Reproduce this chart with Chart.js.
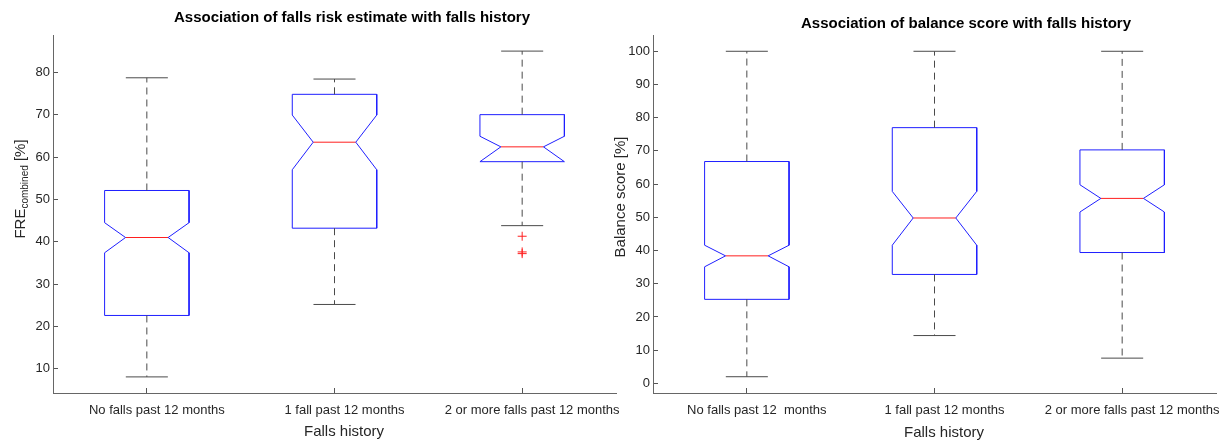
<!DOCTYPE html>
<html><head><meta charset="utf-8">
<script src="https://cdn.jsdelivr.net/npm/chart.js@4.4.1/dist/chart.umd.min.js"></script>
<style>
html,body{margin:0;padding:0;background:#fff;}
#wrap{position:relative;width:1230px;height:443px;overflow:hidden;background:#fff;}
canvas{position:absolute;top:0;}
#c1{left:0px}
#c2{left:600px}
</style></head><body>
<div id="wrap"><canvas id="c1" width="630" height="443"></canvas><canvas id="c2" width="630" height="443"></canvas></div>
<script>
// ---------- data ----------
const categoriesFre = ['No falls past 12 months', '1 fall past 12 months', '2 or more falls past 12 months'];
const categoriesBal = ['No falls past 12  months', '1 fall past 12 months', '2 or more falls past 12 months'];

const freWhiskerLow  = [8.1, 25.2, 43.8];
const freQ1          = [22.6, 43.2, 58.9];
const freNotchLow    = [37.4, 57.0, 58.9];
const freMedian      = [41.0, 63.5, 62.4];
const freNotchHigh   = [44.5, 69.9, 64.9];
const freQ3          = [52.1, 74.8, 70.0];
const freWhiskerHigh = [78.7, 78.4, 85.0];
const freOutliers    = [[], [], [41.3, 37.6, 37.2]];
const freTicks       = [10, 20, 30, 40, 50, 60, 70, 80];

const balWhiskerLow  = [2.0, 14.4, 7.6];
const balQ1          = [25.3, 32.8, 39.4];
const balNotchLow    = [35.1, 41.6, 51.6];
const balMedian      = [38.4, 49.8, 55.7];
const balNotchHigh   = [41.6, 57.8, 59.8];
const balQ3          = [66.8, 77.0, 70.3];
const balWhiskerHigh = [100, 100, 100];
const balOutliers    = [[], [], []];
const balTicks       = [0, 10, 20, 30, 40, 50, 60, 70, 80, 90, 100];

// ---------- styling constants ----------
const BOX_HALF = 0.225, NOTCH_HALF = 0.1135, CAP_HALF = 0.112;
const FONT = '"Liberation Sans", Arial, Helvetica, sans-serif';
const TXT = '#262626';

function makeSets(wlo, q1, nl, med, nh, q3, whi, outs) {
  const outline = [], median = [], whisk = [], caps = [], outPts = [];
  for (let i = 0; i < q1.length; i++) {
    const c = i + 1;
    outline.push(
      {x: c - BOX_HALF, y: q3[i]}, {x: c + BOX_HALF, y: q3[i]}, {x: c + BOX_HALF, y: nh[i]},
      {x: c + NOTCH_HALF, y: med[i]}, {x: c + BOX_HALF, y: nl[i]}, {x: c + BOX_HALF, y: q1[i]},
      {x: c - BOX_HALF, y: q1[i]}, {x: c - BOX_HALF, y: nl[i]}, {x: c - NOTCH_HALF, y: med[i]},
      {x: c - BOX_HALF, y: nh[i]}, {x: c - BOX_HALF, y: q3[i]}, {x: c, y: null});
    median.push({x: c - NOTCH_HALF, y: med[i]}, {x: c + NOTCH_HALF, y: med[i]}, {x: c, y: null});
    whisk.push({x: c, y: q3[i]}, {x: c, y: whi[i]}, {x: c, y: null},
               {x: c, y: q1[i]}, {x: c, y: wlo[i]}, {x: c, y: null});
    caps.push({x: c - CAP_HALF, y: whi[i]}, {x: c + CAP_HALF, y: whi[i]}, {x: c, y: null},
              {x: c - CAP_HALF, y: wlo[i]}, {x: c + CAP_HALF, y: wlo[i]}, {x: c, y: null});
    outs[i].forEach(v => outPts.push({x: c, y: v}));
  }
  const line = (data, color, dash) => ({data, borderColor: color, borderWidth: 1, borderDash: dash || [],
    showLine: true, pointRadius: 0, spanGaps: false, tension: 0, fill: false});
  return [
    line(whisk, '#4a4a4a', [7, 5]),
    line(caps, '#4a4a4a'),
    line(outline, '#1f1fff'),
    line(median, '#ff1f1f'),
    {data: outPts, showLine: false, pointStyle: 'cross', pointRadius: 4.5, borderColor: '#ff2020',
     backgroundColor: '#ff2020', borderWidth: 1}
  ];
}

function textPlugin(t) {
  return {
    id: 'customTexts',
    afterDraw(chart) {
      const ctx = chart.ctx;
      ctx.save();
      ctx.fillStyle = '#000';
      ctx.font = 'bold 15px ' + FONT;
      ctx.textAlign = 'center'; ctx.textBaseline = 'middle';
      ctx.fillText(t.title, t.titleX, t.titleY);
      ctx.fillStyle = TXT;
      ctx.font = '15px ' + FONT;
      ctx.fillText(t.xTitle, t.xTitleX, t.xTitleY);
      ctx.translate(t.yTitleX, t.yTitleY);
      ctx.rotate(-Math.PI / 2);
      ctx.textAlign = 'left'; ctx.textBaseline = 'alphabetic';
      const parts = t.yParts;
      let total = 0;
      parts.forEach(p => { ctx.font = p.size + 'px ' + FONT; total += ctx.measureText(p.text).width; });
      let x = -total / 2;
      parts.forEach(p => {
        ctx.font = p.size + 'px ' + FONT;
        ctx.fillText(p.text, x, 5 + (p.dy || 0));
        x += ctx.measureText(p.text).width;
      });
      ctx.restore();
    }
  };
}

function makeChart(id, sets, cats, yMin, yMax, yTicks, texts) {
  return new Chart(document.getElementById(id), {
    type: 'scatter',
    data: {datasets: sets},
    options: {
      responsive: false, animation: false,
      layout: {padding: {top: 35, right: 14, left: 0, bottom: 0}},
      plugins: {legend: {display: false}, tooltip: {enabled: false}, title: {display: false}},
      scales: {
        x: {
          type: 'linear', min: 0.5, max: 3.5,
          afterBuildTicks: s => { s.ticks = cats.map((c, i) => ({value: i + 1})); },
          afterFit: s => { s.height = 50; },
          grid: {drawOnChartArea: false, drawTicks: true, tickLength: -5, color: '#555'},
          border: {display: true, color: '#666', width: 1},
          ticks: {autoSkip: false, maxRotation: 0, minRotation: 0, padding: 15, labelOffset: 10,
                  color: TXT, font: {family: FONT, size: 13},
                  callback: v => cats[Math.round(v) - 1]}
        },
        y: {
          type: 'linear', min: yMin, max: yMax,
          afterBuildTicks: s => { s.ticks = yTicks.map(v => ({value: v})); },
          afterFit: s => { s.width = 53; },
          grid: {drawOnChartArea: false, drawTicks: true, tickLength: -5, color: '#555'},
          border: {display: true, color: '#666', width: 1},
          ticks: {padding: 8, color: TXT, font: {family: FONT, size: 13}}
        }
      }
    },
    plugins: [textPlugin(texts)]
  });
}

makeChart('c1',
  makeSets(freWhiskerLow, freQ1, freNotchLow, freMedian, freNotchHigh, freQ3, freWhiskerHigh, freOutliers),
  categoriesFre, 4.3, 88.8, freTicks,
  {title: 'Association of falls risk estimate with falls history', titleX: 352, titleY: 18,
   xTitle: 'Falls history', xTitleX: 344, xTitleY: 432, yTitleX: 20, yTitleY: 189,
   yParts: [{text: 'FRE', size: 15}, {text: 'combined', size: 10, dy: 3}, {text: ' [%]', size: 15}]});

makeChart('c2',
  makeSets(balWhiskerLow, balQ1, balNotchLow, balMedian, balNotchHigh, balQ3, balWhiskerHigh, balOutliers),
  categoriesBal, -2.9, 104.9, balTicks,
  {title: 'Association of balance score with falls history', titleX: 366, titleY: 24,
   xTitle: 'Falls history', xTitleX: 344, xTitleY: 433, yTitleX: 20, yTitleY: 197,
   yParts: [{text: 'Balance score [%]', size: 15}]});
</script>
</body></html>
